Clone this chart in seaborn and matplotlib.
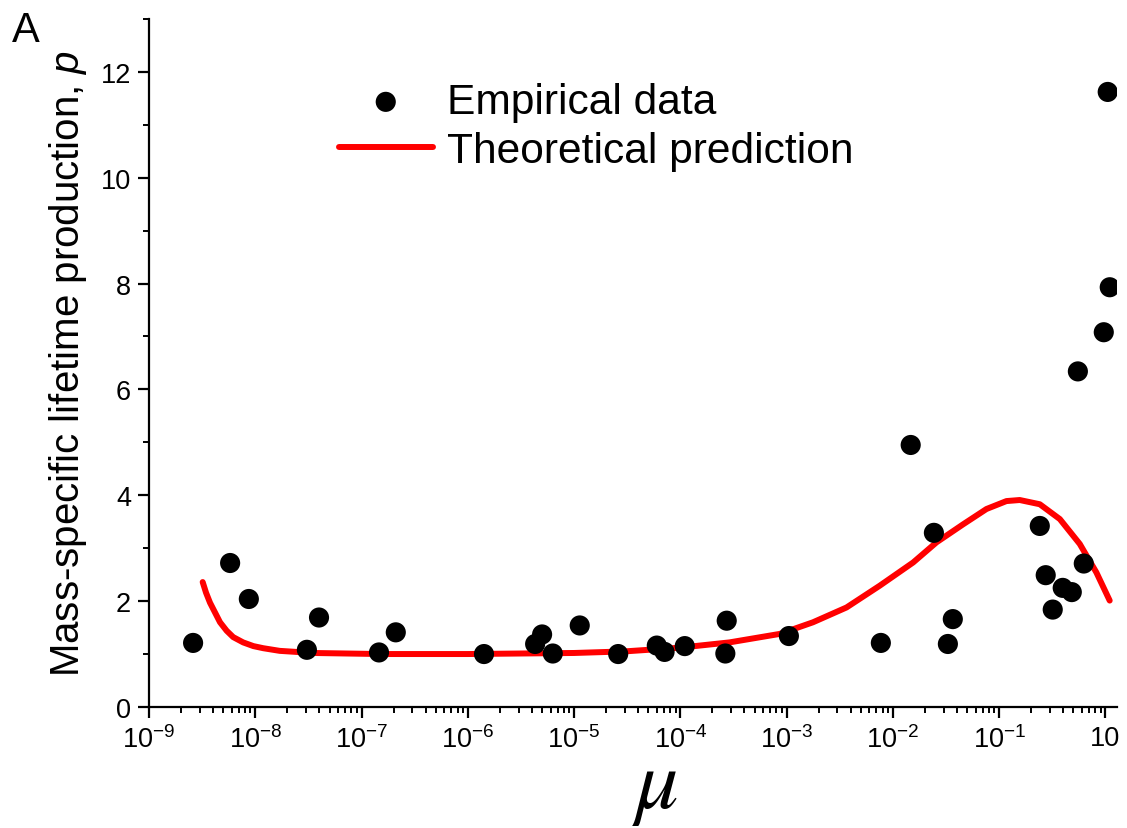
import matplotlib
matplotlib.use("Agg")
import matplotlib.pyplot as plt
import matplotlib.ticker as mticker
import seaborn as sns
import pandas as pd

# empirical points (mu, p)
mu_emp = [2.6e-9, 5.8e-9, 8.7e-9, 3.06e-8, 3.98e-8, 1.46e-7, 2.1e-7,
          1.42e-6, 4.3e-6, 5.0e-6, 6.3e-6, 1.13e-5, 2.6e-5, 6.0e-5, 7.1e-5,
          1.1e-4, 2.65e-4, 2.73e-4, 1.05e-3, 7.7e-3, 1.47e-2, 2.43e-2,
          3.29e-2, 3.66e-2, 0.241, 0.274, 0.319, 0.396, 0.482, 0.55, 0.625,
          0.964, 1.05, 1.097]
p_emp = [1.21, 2.72, 2.04, 1.08, 1.69, 1.03, 1.41,
         1.00, 1.19, 1.37, 1.01, 1.54, 1.00, 1.16, 1.04,
         1.15, 1.01, 1.63, 1.34, 1.21, 4.95, 3.29,
         1.19, 1.66, 3.42, 2.49, 1.84, 2.25, 2.17, 6.34, 2.71,
         7.08, 11.62, 7.93]

# theoretical curve
mu_theory = [3.2e-9, 3.44e-9, 3.75e-9, 4.66e-9, 5.38e-9, 6.2e-9, 7.69e-9,
             9.6e-9, 1.19e-8, 1.7e-8, 3.5e-8, 1.5e-7, 1e-6, 1e-5, 3e-5,
             9.9e-5, 2.9e-4, 8.6e-4, 1.77e-3, 3.66e-3, 7.5e-3, 1.55e-2,
             2.57e-2, 4.57e-2, 7.59e-2, 0.117, 0.156, 0.241, 0.372, 0.573,
             0.822, 1.096]
p_theory = [2.36, 2.16, 1.97, 1.60, 1.44, 1.32, 1.22,
            1.15, 1.11, 1.06, 1.02, 1.00, 1.00, 1.02, 1.05,
            1.12, 1.22, 1.38, 1.60, 1.88, 2.29, 2.73,
            3.11, 3.45, 3.74, 3.89, 3.91, 3.83, 3.55, 3.08,
            2.54, 2.01]

x_tick_vals = [1e-9, 1e-8, 1e-7, 1e-6, 1e-5, 1e-4, 1e-3, 1e-2, 1e-1, 1e0]
x_tick_labels = [r"$\mathregular{10^{-9}}$", r"$\mathregular{10^{-8}}$",
                 r"$\mathregular{10^{-7}}$", r"$\mathregular{10^{-6}}$",
                 r"$\mathregular{10^{-5}}$", r"$\mathregular{10^{-4}}$",
                 r"$\mathregular{10^{-3}}$", r"$\mathregular{10^{-2}}$",
                 r"$\mathregular{10^{-1}}$", "10"]

emp = pd.DataFrame({"mu": mu_emp, "p": p_emp})
theory = pd.DataFrame({"mu": mu_theory, "p": p_theory})

sns.set_style("ticks")
plt.rcParams["font.family"] = ["Liberation Sans", "DejaVu Sans"]
plt.rcParams["mathtext.fontset"] = "custom"
plt.rcParams["mathtext.rm"] = "Liberation Sans"
plt.rcParams["mathtext.it"] = "Liberation Sans:italic"
plt.rcParams["text.color"] = "black"
plt.rcParams["axes.labelcolor"] = "black"

fig = plt.figure(figsize=(11.27, 8.29), dpi=100)
ax = fig.add_axes([0.1322, 0.146, 0.991 - 0.1322, 0.976 - 0.146])

sns.lineplot(data=theory, x="mu", y="p", ax=ax, color="#ff0000", linewidth=4.3,
             estimator=None, label="Theoretical prediction", zorder=2,
             solid_capstyle="round", solid_joinstyle="round")
sns.scatterplot(data=emp, x="mu", y="p", ax=ax, color="black", s=210,
                edgecolor="none", label="Empirical data", zorder=3)

ax.set_xscale("log")
ax.set_xlim(1e-9, 1.28)
ax.set_ylim(0, 13)

ax.set_xticks(x_tick_vals)
ax.set_xticklabels(x_tick_labels)
ax.xaxis.set_minor_locator(mticker.LogLocator(base=10, subs=range(2, 10), numticks=100))
ax.xaxis.set_minor_formatter(mticker.NullFormatter())
ax.set_yticks(range(0, 13, 2))
ax.yaxis.set_minor_locator(mticker.MultipleLocator(1))

ax.tick_params(which="major", direction="out", length=8, width=1.6,
               labelsize=19.5, colors="black", pad=5)
ax.tick_params(which="minor", direction="out", length=4, width=1.4, colors="black")

for side in ["top", "right"]:
    ax.spines[side].set_visible(False)
for side in ["left", "bottom"]:
    ax.spines[side].set_linewidth(1.6)
    ax.spines[side].set_color("black")

ax.set_xlabel(r"$\mu$", fontsize=62, math_fontfamily="stix")
ax.xaxis.set_label_coords(0.523, -0.174)
ax.xaxis.label.set_va("bottom")
ax.set_ylabel("Mass-specific lifetime production, $\\mathit{p}$", fontsize=29,
              labelpad=8)

handles, labels = ax.get_legend_handles_labels()
order = [labels.index("Empirical data"), labels.index("Theoretical prediction")]
ax.legend([handles[i] for i in order], [labels[i] for i in order],
          loc="upper left", bbox_to_anchor=(322 / 1127, 1 - 66 / 829),
          bbox_transform=fig.transFigure, frameon=False, fontsize=30.6,
          handlelength=2.2, handletextpad=0.33, labelspacing=0.2,
          borderaxespad=0, markerscale=1.0)

fig.text(12 / 1127, 1 - 42 / 829, "A", fontsize=30)

fig.savefig("out.png", dpi=100)
